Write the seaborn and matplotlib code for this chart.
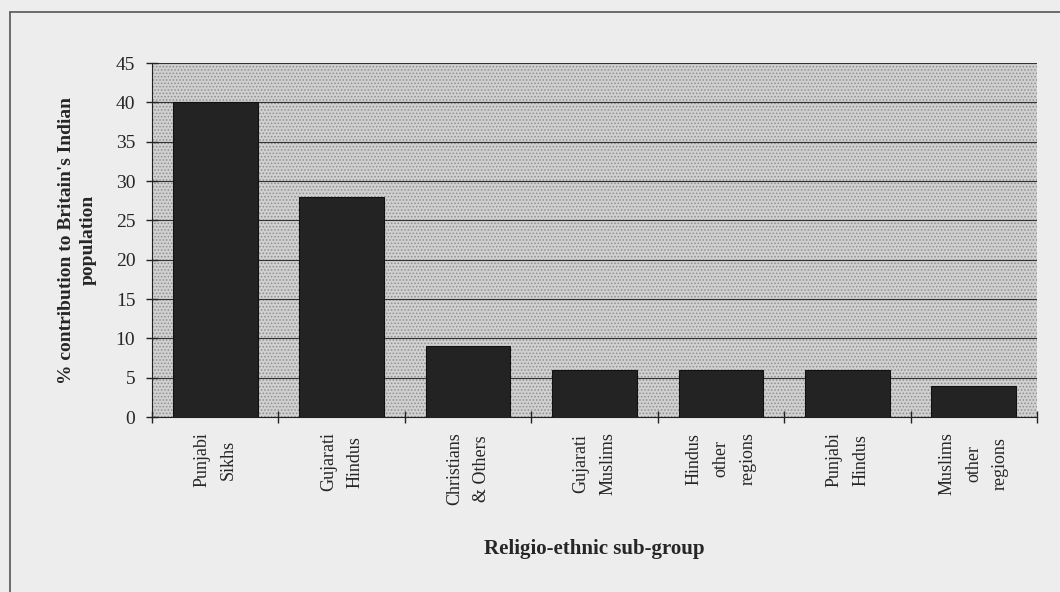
import matplotlib
matplotlib.use("Agg")
import matplotlib.pyplot as plt
import seaborn as sns
import pandas as pd
import numpy as np
from matplotlib.patches import Rectangle
from matplotlib.lines import Line2D

# Данные
groups = ["Punjabi\nSikhs", "Gujarati\nHindus", "Christians\n& Others", "Gujarati\nMuslims",
          "Hindus\nother\nregions", "Punjabi\nHindus", "Muslims\nother\nregions"]
share = [40, 28, 9, 6, 6, 6, 4]
y_ticks = [0, 5, 10, 15, 20, 25, 30, 35, 40, 45]

df = pd.DataFrame({"group": groups, "share": share})

sns.set_style("white")
plt.rcParams['font.family'] = ['Liberation Serif', 'DejaVu Serif']
plt.rcParams['hatch.linewidth'] = 0.7

fig = plt.figure(figsize=(10.6, 5.92), dpi=100)
fig.patch.set_facecolor('#ededed')
ax = fig.add_axes([152/1060, 1 - 417/592, (1037-152)/1060, (417-63)/592])

# рамка вокруг рисунка
fig.add_artist(Line2D([10/1060, 10/1060], [0, 1 - 12/592], transform=fig.transFigure, color='#555555', lw=1.2))
fig.add_artist(Line2D([10/1060, 1], [1 - 12/592, 1 - 12/592], transform=fig.transFigure, color='#555555', lw=1.2))

# точечный фон области построения
ax.set_facecolor('#cdcdcd')
bg = Rectangle((0, 0), 1, 1, transform=ax.transAxes, facecolor='#d0d0d0', edgecolor='#8e8e8e',
               hatch='.....', lw=0, zorder=0)
ax.add_patch(bg)

sns.barplot(data=df, x="group", y="share", ax=ax, color='#232323', width=0.67,
            edgecolor='#111111', linewidth=0.8, saturation=1, zorder=3)

ax.set_ylim(0, 45)
ax.set_xlim(-0.5, len(groups) - 0.5)
ax.set_yticks(y_ticks)
ax.set_yticklabels([str(v) for v in y_ticks], fontsize=14)
ax.yaxis.grid(True, color='#333333', lw=0.8, zorder=1)
ax.set_axisbelow(True)

# метки категорий по центру, засечки на границах
ax.set_xticks(range(len(groups)))
ax.set_xticklabels(groups, rotation=90, fontsize=13, va='top', ha='center',
                   multialignment='center', linespacing=1.75)
ax.set_xticks(np.arange(len(groups) + 1) - 0.5, minor=True)
ax.tick_params(axis='x', which='major', bottom=True, length=0, pad=11)
ax.tick_params(axis='x', which='minor', bottom=True, length=8, width=1, color='#222222', direction='inout')
ax.tick_params(axis='y', left=True, length=8, width=1, color='#222222', direction='inout', pad=8)

for s in ['top', 'right']:
    ax.spines[s].set_visible(False)
ax.spines['left'].set_color('#222222')
ax.spines['bottom'].set_color('#222222')

ax.set_ylabel("% contribution to Britain's Indian\npopulation", fontsize=14, fontweight='bold',
              linespacing=1.4)
ax.yaxis.set_label_coords(-0.062, 0.5)
ax.set_xlabel("Religio-ethnic sub-group", fontsize=15, fontweight='bold')
ax.xaxis.set_label_coords(0.5, -0.345)

plt.savefig("out.png", dpi=100, facecolor=fig.get_facecolor())
